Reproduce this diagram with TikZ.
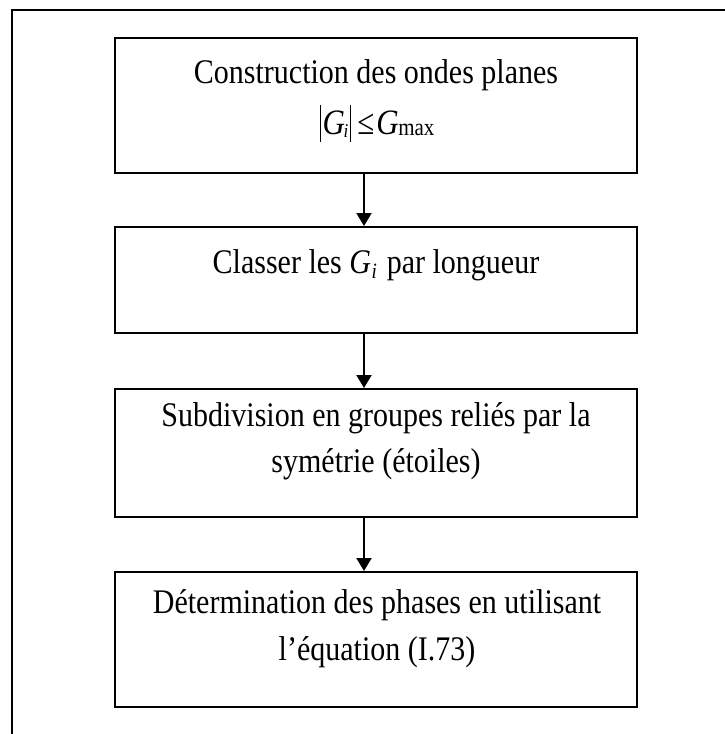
\documentclass[tikz,border=0pt]{standalone}
\usepackage{fontspec}
\setmainfont{Liberation Serif}
\usetikzlibrary{arrows.meta}
\newcommand{\tallline}[1]{\scalebox{1}[1.15]{#1}}
\newcommand{\absbar}{\rule[-7pt]{1.1pt}{32pt}}
\begin{document}
\begin{tikzpicture}[x=1pt,y=-1pt,
  stepbox/.style={draw, line width=2.5pt, minimum width=522pt, inner sep=0pt, outer sep=0pt},
  txt/.style={anchor=base, inner sep=0pt, outer sep=0pt, font=\fontsize{30}{34}\selectfont},
  arr/.style={line width=2pt, -{Triangle[length=13pt,width=15pt]}, shorten >=1pt},
  frame/.style={line width=2.5pt}]
\useasboundingbox (0,0) rectangle (724,734);
% outer frame (open on right and bottom)
\coordinate (fa) at (12,740);
\coordinate (fb) at (12,10);
\coordinate (fc) at (730,10);
\draw[frame] (fa) -- (fb) -- (fc);
% boxes
\node[stepbox, minimum height=135pt] (b1) at (376,105.5) {};
\node[stepbox, minimum height=106pt] (b2) at (376,280) {};
\node[stepbox, minimum height=128pt] (b3) at (376,453) {};
\node[stepbox, minimum height=135pt] (b4) at (376,639.5) {};
% texts
\node[txt] (t1a) at (376,83) {\tallline{Construction des ondes planes}};
\node[txt] (t1b) at (377,134) {\tallline{\fontsize{31}{34}\selectfont\absbar\kern2pt\textit{G}\kern-1.5pt\raisebox{-3pt}{\fontsize{17}{17}\selectfont\itshape i}\kern2pt\absbar\kern6pt≤\kern2pt\textit{G}\kern-0.5pt\raisebox{-1.5pt}{\fontsize{21}{21}\selectfont max}}};
\node[txt] (t2) at (376,273) {\tallline{Classer les \textit{G}\kern0.5pt\raisebox{-5pt}{\fontsize{19}{19}\selectfont\itshape i}\kern10pt par longueur}};
\node[txt] (t3a) at (376,426) {\tallline{Subdivision en groupes reliés par la}};
\node[txt] (t3b) at (376,472) {\tallline{symétrie (étoiles)}};
\node[txt] (t4a) at (377,613) {\tallline{Détermination des phases en utilisant}};
\node[txt] (t4b) at (377,660) {\tallline{l’équation (I.73)}};
% arrows
\draw[arr] ([xshift=-12pt]b1.south) -- ([xshift=-12pt]b2.north);
\draw[arr] ([xshift=-12pt]b2.south) -- ([xshift=-12pt]b3.north);
\draw[arr] ([xshift=-12pt]b3.south) -- ([xshift=-12pt]b4.north);
\end{tikzpicture}
\end{document}
